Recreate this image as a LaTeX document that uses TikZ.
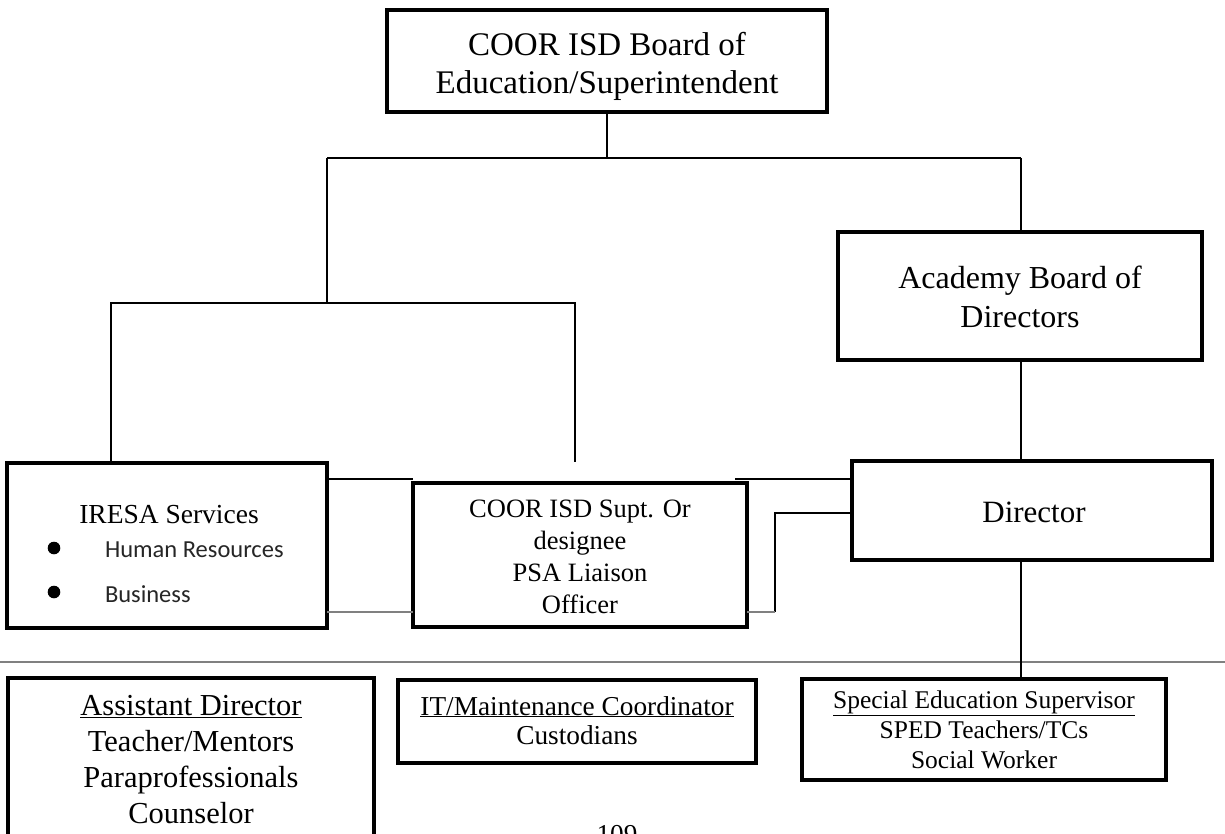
\documentclass[tikz,border=0pt]{standalone}
\usepackage{fontspec}
\setmainfont{Liberation Serif}
\newfontfamily\calfont{Carlito}
\begin{document}
\begin{tikzpicture}[x=1pt,y=-1pt,
  bigbox/.style={draw=black, line width=4pt, inner sep=0pt, outer sep=0pt, line join=miter},
  lowbox/.style={draw=black, line width=3.3pt, inner sep=0pt, outer sep=0pt, line join=miter},
  conn/.style={draw=black, line width=2.5pt, line join=miter},
  grayconn/.style={draw=black!50, line width=2.2pt},
  lbl/.style={anchor=base, inner sep=0pt, outer sep=0pt},
  f33/.style={lbl, font=\fontsize{33pt}{38pt}\selectfont},
  f32/.style={lbl, font=\fontsize{32pt}{38pt}\selectfont},
  f31/.style={lbl, font=\fontsize{31pt}{36pt}\selectfont},
  f30/.style={lbl, font=\fontsize{30.5pt}{36pt}\selectfont},
  f27/.style={lbl, font=\fontsize{27.3pt}{32pt}\selectfont},
  f26/.style={lbl, font=\fontsize{26.5pt}{32pt}\selectfont},
  f25/.style={lbl, font=\fontsize{25.5pt}{30pt}\selectfont},
  fcal/.style={anchor=base west, inner sep=0pt, outer sep=0pt, text=black!85, font=\calfont\fontsize{24.5pt}{30pt}\selectfont},
]
\useasboundingbox (0,0) rectangle (1225,833);
\fill[white] (0,0) rectangle (1225,833);

% boxes
\node[bigbox, minimum width=440pt, minimum height=102pt] (top) at (607,61) {};
\node[bigbox, minimum width=364pt, minimum height=128pt] (acad) at (1020,296) {};
\node[bigbox, minimum width=360pt, minimum height=99pt] (dir) at (1032,510.5) {};
\node[bigbox, minimum width=320pt, minimum height=165pt] (iresa) at (167,545.5) {};
\node[bigbox, minimum width=334pt, minimum height=144pt] (coor) at (580,555) {};
\node[lowbox, minimum width=366pt, minimum height=160pt] (asst) at (191,758) {};
\node[lowbox, minimum width=358pt, minimum height=83pt] (itbox) at (577,721.5) {};
\node[lowbox, minimum width=364pt, minimum height=101pt] (sped) at (984,729.5) {};

% junction coordinates
\coordinate (hL) at (327,158);
\coordinate (hR) at (1021,158);
\coordinate (mL) at (111,303);
\coordinate (mR) at (575,303);
\coordinate (mEnd) at (575,462);
\coordinate (a1) at (327,479);
\coordinate (a3) at (735,479);
\coordinate (b1) at (775,513);
\coordinate (b2) at (775,612);
\coordinate (g1) at (0,612);
\coordinate (sepL) at (0,662);
\coordinate (sepR) at (1225,662);

% separator line
\draw[grayconn] (sepL) -- (sepR);

% connectors
\draw[conn] (top.south) -- (top.south |- hL);
\draw[conn] (hL) -- (hR);
\draw[conn] (hL) -- (hL |- mL);
\draw[conn] (mL |- iresa.north) -- (mL) -- (mR) -- (mEnd);
\draw[conn] (hR) -- (hR |- acad.north);
\draw[conn] (hR |- acad.south) -- (hR |- dir.north);
\draw[conn] (hR |- dir.south) -- (hR |- sped.north);
\draw[conn] (iresa.east |- a1) -- (coor.west |- a1);
\draw[conn] (a3) -- (dir.west |- a3);
\draw[conn] (dir.west |- b1) -- (b1) -- (b2);
\draw[grayconn] (b2) -- (coor.east |- b2);
\draw[grayconn] (iresa.east |- g1) -- (coor.west |- g1);

% texts
\node[f33] (t1) at (607,55) {COOR ISD Board of};
\node[f33] (t2) at (607,93) {Education/Superintendent};
\node[f32] (a1t) at (1020,288) {Academy Board of};
\node[f32] (a2t) at (1020,327) {Directors};
\node[f31] (dt) at (1034,522) {Director};
\node[lbl, font=\fontsize{27.5pt}{32pt}\selectfont] (it1) at (169,523) {IRESA Services};
\fill (54,548) circle (6.3pt);
\fill (54,592) circle (6.3pt);
\node[fcal] (it2) at (105,557) {Human Resources};
\node[fcal] (it3) at (105,602) {Business};
\node[f26] (c1) at (580,517) {COOR ISD Supt. Or};
\node[f26] (c2) at (580,549) {designee};
\node[f26] (c3) at (580,581) {PSA Liaison};
\node[f26] (c4) at (580,613) {Officer};
\node[f30] (s1) at (191,715) {\underline{Assistant Director}};
\node[f30] (s2) at (191,751) {Teacher/Mentors};
\node[f30] (s3) at (191,787) {Paraprofessionals};
\node[f30] (s4) at (191,823) {Counselor};
\node[f27] (m1) at (577,715) {\underline{IT/Maintenance Coordinator}};
\node[f27] (m2) at (577,744) {Custodians};
\node[f25] (p1) at (984,708) {\underline{Special Education Supervisor}};
\node[f25] (p2) at (984,738) {SPED Teachers/TCs};
\node[f25] (p3) at (984,768) {Social Worker};
\node[f27] (pg) at (617,843) {109};
\end{tikzpicture}
\end{document}
